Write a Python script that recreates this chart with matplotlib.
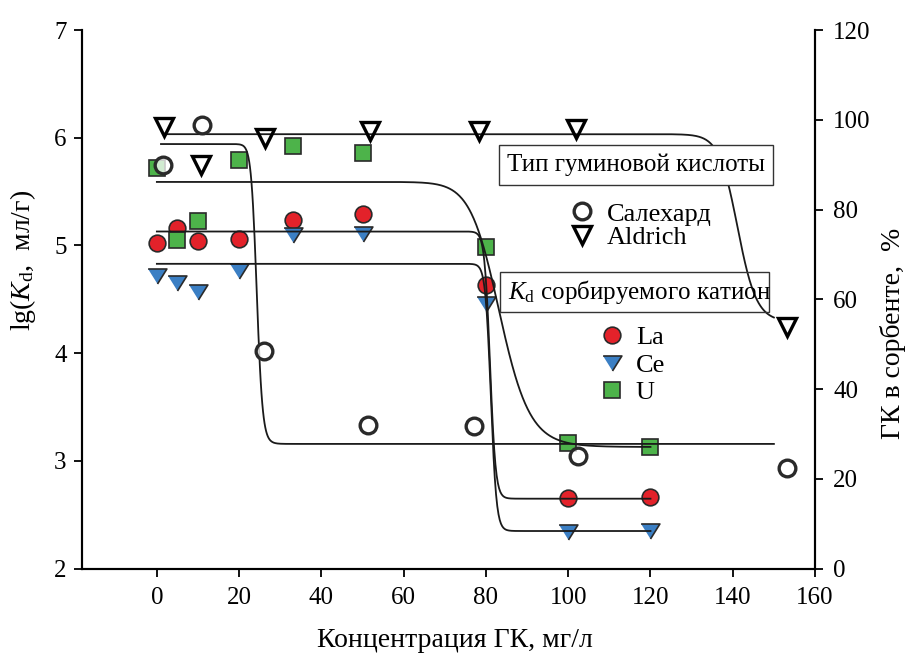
import numpy as np
import matplotlib
matplotlib.use('Agg')
import matplotlib.pyplot as plt
from matplotlib.lines import Line2D
from matplotlib.patches import Rectangle

plt.rcParams['font.family'] = ['Liberation Serif', 'DejaVu Serif']
plt.rcParams['mathtext.fontset'] = 'custom'
plt.rcParams['mathtext.rm'] = 'Liberation Serif'
plt.rcParams['mathtext.it'] = 'Liberation Serif:italic'

# sorbed cations, lg Kd vs HA concentration
conc = [0, 5, 10, 20, 33, 50, 80, 100, 120]
lg_La = [5.02, 5.16, 5.04, 5.06, 5.24, 5.29, 4.63, 2.66, 2.67]
lg_Ce = [4.72, 4.65, 4.57, 4.76, 5.10, 5.11, 4.46, 2.34, 2.35]
lg_U = [5.72, 5.05, 5.23, 5.79, 5.92, 5.86, 4.99, 3.17, 3.13]

# HA in sorbent, %
conc_sal = [1.6, 10.9, 26.0, 51.4, 77.0, 102.4, 153.3]
pct_sal = [90.0, 98.9, 48.6, 32.0, 31.8, 25.0, 22.4]
conc_ald = [1.8, 10.7, 26.3, 51.7, 78.2, 102.0, 153.3]
pct_ald = [98.5, 90.0, 95.9, 97.4, 97.4, 97.9, 53.9]

# logistic fits: top, bottom, x0, p, x range
fit_La = (5.13, 2.65, 81.0, 120, 0, 120)
fit_Ce = (4.83, 2.35, 81.2, 120, 0, 120)
fit_U = (5.59, 3.13, 83.4, 23, 0, 120)
fit_sal = (94.6, 27.8, 24.3, 35, 1, 150)
fit_ald = (96.8, 55.0, 141.2, 62, 2, 150)


def logistic(fit):
    top, bottom, x0, p, xa, xb = fit
    x = np.linspace(xa, xb, 800)
    return x, bottom + (top - bottom) / (1 + (x / x0) ** p)


red = '#E3222A'
blue = '#3B7FC4'
green = '#4DB34A'
edge = '#2a2a2a'

fig = plt.figure(figsize=(9.07, 6.54), dpi=100)
ax = fig.add_axes([0.0904, 0.1304, 0.8082, 0.8237])
ax2 = ax.twinx()

ce_marker = [(-1, 0.8), (1, 0.8), (0, -0.8)]

ax.plot(conc, lg_La, 'o', ms=12, mfc=red, mec=edge, mew=1.2, ls='none', zorder=3)
ax.plot(conc, lg_Ce, marker=ce_marker, ms=13.5, mfc=blue, mec=edge, mew=1.2, ls='none', zorder=3)
ax.plot(conc, lg_U, 's', ms=11, mfc=green, mec=edge, mew=1.2, ls='none', zorder=3)
for f in (fit_La, fit_Ce, fit_U):
    x, y = logistic(f)
    ax.plot(x, y, color='#1a1a1a', lw=1.3, zorder=4)

ax2.plot(conc_sal, pct_sal, 'o', ms=12, mfc=(1, 1, 1, 0.75), mec=edge, mew=2.4, ls='none', zorder=3)
ax2.plot(conc_ald, pct_ald, 'v', ms=13.5, mfc='none', mec='black', mew=2.4, ls='none', zorder=3)
for f in (fit_sal, fit_ald):
    x, y = logistic(f)
    ax2.plot(x, y, color='#1a1a1a', lw=1.3, zorder=2)

ax.set_xlim(-18.2, 160)
ax.set_ylim(2, 7)
ax2.set_ylim(0, 120)
ax.set_xticks(range(0, 161, 20))
ax.set_yticks(range(2, 8))
ax2.set_yticks(range(0, 121, 20))

for a in (ax, ax2):
    a.spines['top'].set_visible(False)
    for s in a.spines.values():
        s.set_linewidth(1.5)
ax.tick_params(axis='both', direction='out', length=6, width=1.3, labelsize=18, pad=5)
ax.tick_params(axis='x', pad=7)
ax2.tick_params(axis='y', direction='out', length=6, width=1.3, labelsize=18, pad=7)

ax.set_xlabel('Концентрация ГК, мг/л', fontsize=20)
ax.xaxis.set_label_coords(0.509, -0.11)
ax.set_ylabel(r'lg($K_{\rm d}$,  мл/г)', fontsize=20)
ax.yaxis.set_label_coords(-0.060, 0.573)
ax2.set_ylabel('ГК в сорбенте,  %', fontsize=20)
ax2.yaxis.set_label_coords(1.089, 0.4375)

# boxes
ax2.add_patch(Rectangle((0.569, 0.712), 0.374, 0.075, transform=ax2.transAxes,
                        fc='white', ec='#333333', lw=1.0, zorder=5))
ax2.text(0.756, 0.749, 'Тип гуминовой кислоты', transform=ax2.transAxes,
         ha='center', va='center', fontsize=18, zorder=6)
ax2.add_patch(Rectangle((0.570, 0.4765), 0.367, 0.0745, transform=ax2.transAxes,
                        fc='none', ec='#333333', lw=1.0, zorder=5))
ax2.text(0.581, 0.5136, r'$K_{\rm d}$ сорбируемого катион', transform=ax2.transAxes,
         ha='left', va='center', fontsize=18, zorder=6)

h1 = [Line2D([], [], marker='o', ls='none', ms=12, mfc='none', mec=edge, mew=2.4),
      Line2D([], [], marker='v', ls='none', ms=13.5, mfc='none', mec='black', mew=2.4)]
leg1 = ax2.legend(h1, ['Салехард', 'Aldrich'], loc='center left',
                  bbox_to_anchor=(0.664, 0.637), frameon=False, fontsize=19,
                  handlelength=1.0, handletextpad=0.45, labelspacing=0.0,
                  borderpad=0, borderaxespad=0)
ax2.add_artist(leg1)
h2 = [Line2D([], [], marker='o', ls='none', ms=12, mfc=red, mec=edge, mew=1.2),
      Line2D([], [], marker=ce_marker, ls='none', ms=13.5, mfc=blue, mec=edge, mew=1.2),
      Line2D([], [], marker='s', ls='none', ms=11, mfc=green, mec=edge, mew=1.2)]
ax2.legend(h2, ['La', 'Ce', 'U'], loc='center left',
           bbox_to_anchor=(0.705, 0.378), frameon=False, fontsize=19,
           handlelength=1.0, handletextpad=0.4, labelspacing=0.15,
           borderpad=0, borderaxespad=0)

fig.savefig('out.png', dpi=100)
